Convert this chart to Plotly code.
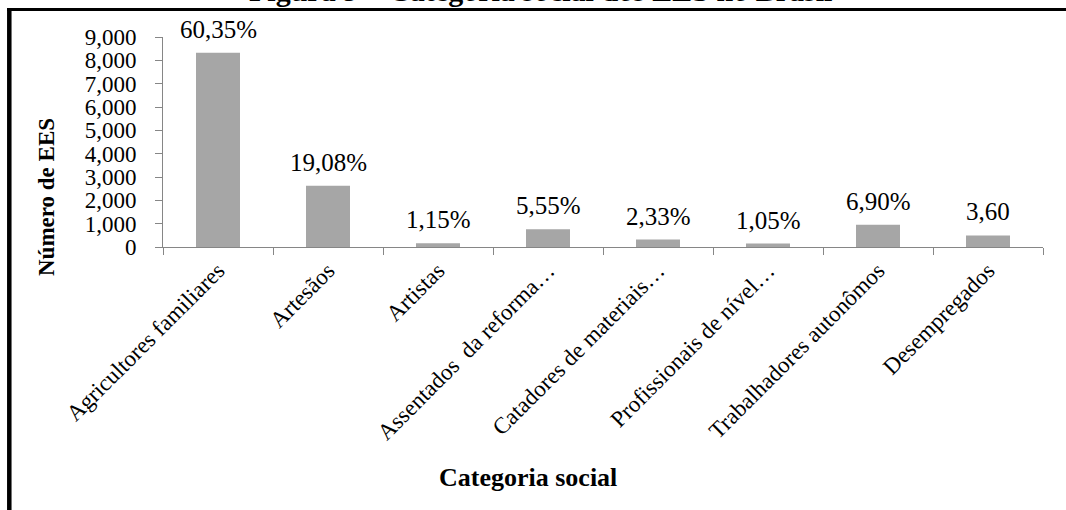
import plotly.graph_objects as go

# Categorias sociais dos empreendimentos (EES)
categorias = [
    "Agricultores familiares",
    "Artesãos",
    "Artistas",
    "Assentados  da reforma…",
    "Catadores de materiais…",
    "Profissionais de nível…",
    "Trabalhadores autonômos",
    "Desempregados",
]
# Número de EES por categoria
numero_ees = [8320, 2630, 159, 766, 321, 145, 951, 496]
# Rótulos de participação percentual
rotulos = ["60,35%", "19,08%", "1,15%", "5,55%", "2,33%", "1,05%", "6,90%", "3,60"]

y_ticks = [0, 1000, 2000, 3000, 4000, 5000, 6000, 7000, 8000, 9000]

FONT = "Liberation Serif"
W, H = 1066, 510
ML, MR, MT, MB = 163, 23, 37, 263
PW, PH = W - ML - MR, H - MT - MB


def px_x(x):
    return (x - ML) / PW


def px_y(y):
    return (H - MB - y) / PH


fig = go.Figure()
fig.add_trace(go.Bar(
    x=categorias,
    y=numero_ees,
    marker=dict(color="#A6A6A6", line=dict(width=0)),
    width=0.4,
    hoverinfo="x+y",
))

annotations = []
for cat, val, lab in zip(categorias, numero_ees, rotulos):
    annotations.append(dict(
        x=cat, y=val, xref="x", yref="y", text=lab, showarrow=False,
        yanchor="bottom", xanchor="center", yshift=8,
        font=dict(family=FONT, size=25, color="black"),
    ))

# Título da figura (parcialmente fora da página)
annotations.append(dict(
    x=px_x(540), y=px_y(9), xref="paper", yref="paper",
    text="<b>Figura 9 – Categoria social dos EES no Brasil</b>",
    showarrow=False, xanchor="center", yanchor="bottom",
    font=dict(family=FONT, size=30, color="black"),
))
# Título do eixo Y
annotations.append(dict(
    x=px_x(46), y=px_y(197), xref="paper", yref="paper",
    text="<b>Número de EES</b>", textangle=-90, showarrow=False,
    xanchor="center", yanchor="middle",
    font=dict(family=FONT, size=23, color="black"),
))
# Título do eixo X
annotations.append(dict(
    x=px_x(528), y=px_y(477), xref="paper", yref="paper",
    text="<b>Categoria social</b>", showarrow=False,
    xanchor="center", yanchor="middle",
    font=dict(family=FONT, size=26, color="black"),
))

shapes = [
    # moldura: linha esquerda e linha superior
    dict(type="line", xref="paper", yref="paper",
         x0=px_x(9.3), x1=px_x(9.3), y0=px_y(8), y1=px_y(520),
         line=dict(color="black", width=4.5)),
    dict(type="line", xref="paper", yref="paper",
         x0=px_x(7), x1=px_x(1075), y0=px_y(9.4), y1=px_y(9.4),
         line=dict(color="black", width=3)),
]

fig.update_layout(
    width=W, height=H,
    margin=dict(l=ML, r=MR, t=MT, b=MB, autoexpand=False),
    paper_bgcolor="white", plot_bgcolor="white",
    showlegend=False,
    bargap=0.6,
    annotations=annotations,
    shapes=shapes,
    font=dict(family=FONT, color="black"),
)
fig.update_xaxes(
    type="category",
    showline=True, linecolor="#868686", linewidth=1,
    ticks="outside", tickson="boundaries", ticklen=7, tickcolor="#868686",
    tickangle=-45,
    tickfont=dict(family=FONT, size=23, color="black"),
    showgrid=False,
)
fig.update_yaxes(
    range=[0, 9000],
    tickvals=y_ticks,
    tickformat=",d",
    showline=True, linecolor="#868686", linewidth=1,
    ticks="outside", ticklen=7, tickcolor="#868686",
    ticklabelstandoff=14,
    tickfont=dict(family=FONT, size=23, color="black"),
    showgrid=False, zeroline=False,
)

fig.write_html("out.html")
